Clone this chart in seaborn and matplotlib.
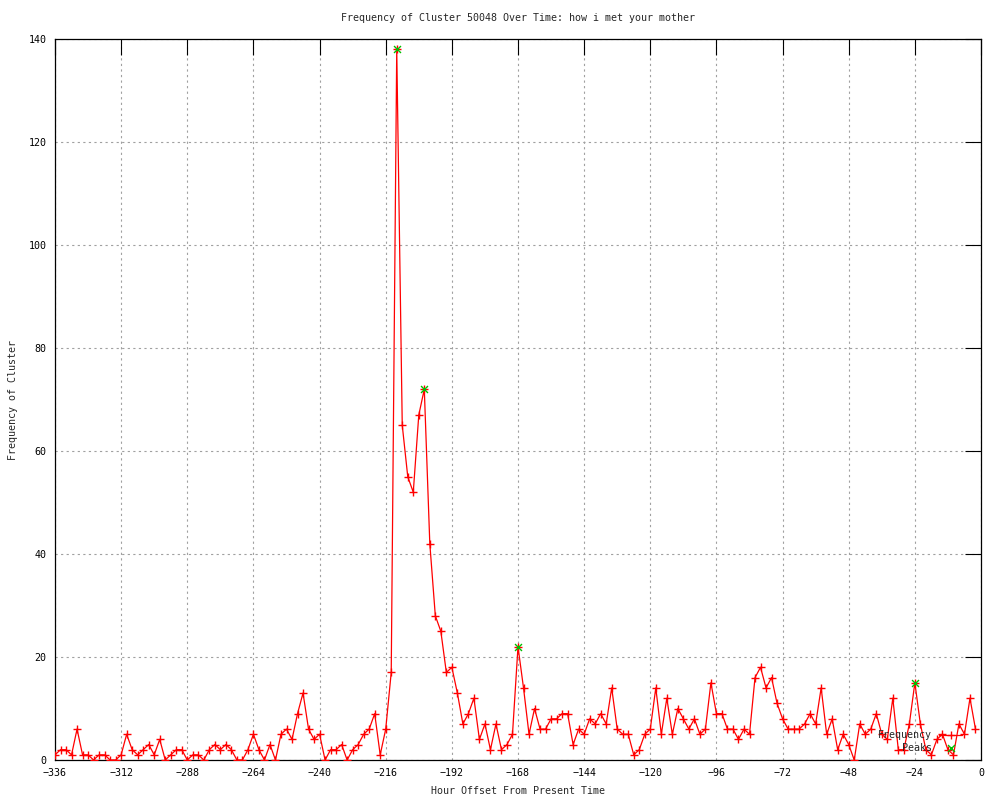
import numpy as np
import pandas as pd
import matplotlib
matplotlib.use("Agg")
import matplotlib.pyplot as plt
import seaborn as sns

# ---- data ----
hours = list(range(-336, 0, 2))
frequency = [
    1, 2, 2, 1, 6, 1, 1, 0, 1, 1, 0, 0, 1, 5, 2, 1, 2, 3, 1, 4,
    0, 1, 2, 2, 0, 1, 1, 0, 2, 3, 2, 3, 2, 0, 0, 2, 5, 2, 0, 3,
    0, 5, 6, 4, 9, 13, 6, 4, 5, 0, 2, 2, 3, 0, 2, 3, 5, 6, 9, 1,
    6, 17, 138, 65, 55, 52, 67, 72, 42, 28, 25, 17, 18, 13, 7, 9, 12, 4, 7, 2,
    7, 2, 3, 5, 22, 14, 5, 10, 6, 6, 8, 8, 9, 9, 3, 6, 5, 8, 7, 9,
    7, 14, 6, 5, 5, 1, 2, 5, 6, 14, 5, 12, 5, 10, 8, 6, 8, 5, 6, 15,
    9, 9, 6, 6, 4, 6, 5, 16, 18, 14, 16, 11, 8, 6, 6, 6, 7, 9, 7, 14,
    5, 8, 2, 5, 3, 0, 7, 5, 6, 9, 5, 4, 12, 2, 2, 7, 15, 7, 2, 1,
    4, 5, 2, 1, 7, 5, 12, 6,
]
peak_hours = [-212, -202, -168, -24]
peak_values = [138, 72, 22, 15]

title = "Frequency of Cluster 50048 Over Time: how i met your mother"
xlabel = "Hour Offset From Present Time"
ylabel = "Frequency of Cluster"
xticks = list(range(-336, 1, 24))
yticks = list(range(0, 141, 20))

df = pd.DataFrame({"hour": hours, "freq": frequency})
pk = pd.DataFrame({"hour": peak_hours, "freq": peak_values})

sns.set_style("white")
plt.rcParams["font.family"] = ["DejaVu Sans Mono"]
FS = 7.2

fig = plt.figure(figsize=(10, 8), dpi=100)
ax = fig.add_axes([0.055, 0.05, 0.926, 0.90125])

sns.lineplot(data=df, x="hour", y="freq", ax=ax, color="#ff0000", linewidth=0.9,
             marker="+", markersize=5.5, markeredgewidth=1.0, markeredgecolor="#ff0000",
             label="Frequency", zorder=3)
sns.scatterplot(data=pk, x="hour", y="freq", ax=ax, color="#00c000", marker="x",
                s=25, linewidth=1.0, label="    Peaks", zorder=4)

ax.set_xlim(-336, 0)
ax.set_ylim(0, 140)
ax.set_xticks(xticks)
ax.set_yticks(yticks)
ax.tick_params(axis="both", which="major", direction="in", length=11.5, width=0.8,
               top=True, right=True, labelsize=FS, colors="black", pad=6)
ax.grid(True, color="#a0a0a0", linestyle=(0, (2, 3)), linewidth=0.8)
ax.set_axisbelow(True)
for s in ax.spines.values():
    s.set_color("black")
    s.set_linewidth(0.9)

ax.set_title(title, fontsize=FS, pad=13)
ax.set_xlabel(xlabel, fontsize=FS)
ax.set_ylabel(ylabel, fontsize=FS)
ax.xaxis.set_label_coords(0.5, -(786 - 760) / 721)
ax.yaxis.set_label_coords(-(37) / 926, 0.5)

leg = ax.legend(loc="lower right", bbox_to_anchor=((962 - 55) / 926, (760 - 753) / 721),
                frameon=False, fontsize=FS, handlelength=2.3, handletextpad=0.7,
                labelspacing=0.3, borderpad=0, borderaxespad=0, markerfirst=False)

fig.savefig("out.png", dpi=100, facecolor="white")
